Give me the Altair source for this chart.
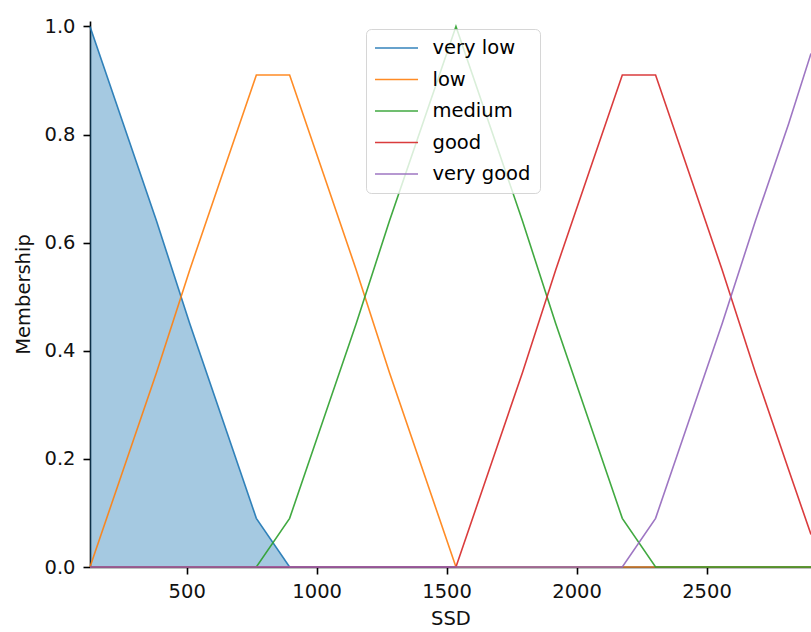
import altair as alt
import pandas as pd

# Universe samples (SSD) and membership values
ssd = [128, 256, 384, 512, 640, 768, 896, 1024, 1152, 1280, 1408, 1536,
       1664, 1792, 1920, 2048, 2176, 2304, 2432, 2560, 2688, 2816, 2902]
very_low = [1.0, 0.82, 0.64, 0.45, 0.27, 0.09, 0, 0, 0, 0, 0, 0,
            0, 0, 0, 0, 0, 0, 0, 0, 0, 0, 0]
low = [0, 0.18, 0.36, 0.55, 0.73, 0.91, 0.91, 0.73, 0.55, 0.36, 0.18, 0,
       0, 0, 0, 0, 0, 0, 0, 0, 0, 0, 0]
medium = [0, 0, 0, 0, 0, 0, 0.09, 0.27, 0.45, 0.64, 0.82, 1.0,
          0.82, 0.64, 0.45, 0.27, 0.09, 0, 0, 0, 0, 0, 0]
good = [0, 0, 0, 0, 0, 0, 0, 0, 0, 0, 0, 0,
        0.18, 0.36, 0.55, 0.73, 0.91, 0.91, 0.73, 0.55, 0.36, 0.18, 0.06]
very_good = [0, 0, 0, 0, 0, 0, 0, 0, 0, 0, 0, 0,
             0, 0, 0, 0, 0, 0.09, 0.27, 0.45, 0.64, 0.82, 0.95]

terms = ["very low", "low", "medium", "good", "very good"]
series = [very_low, low, medium, good, very_good]
colors = ["#1f77b4", "#ff7f0e", "#2ca02c", "#d62728", "#9467bd"]
x_ticks = [500, 1000, 1500, 2000, 2500]
y_ticks = [0.0, 0.2, 0.4, 0.6, 0.8, 1.0]

rows = []
for t, vals in zip(terms, series):
    for x, v in zip(ssd, vals):
        rows.append({"SSD": x, "Membership": v, "term": t})
df = pd.DataFrame(rows)

FONT = "DejaVu Sans"
FS = 19.5

x_enc = alt.X("SSD:Q", title="SSD",
              scale=alt.Scale(domain=[128, 2902], nice=False, zero=False),
              axis=alt.Axis(values=x_ticks, format="d", labelPadding=8,
                            titlePadding=9))
y_enc = alt.Y("Membership:Q", title="Membership",
              scale=alt.Scale(domain=[0, 1.01], nice=False),
              axis=alt.Axis(values=y_ticks, format=".1f", labelPadding=8,
                            titlePadding=10))

legend = alt.Legend(
    title=None, orient="none", legendX=276, legendY=8,
    symbolType="M-1.11,0H3.67", symbolSize=324, symbolStrokeWidth=1.5,
    labelOffset=37.5, labelFontSize=FS, labelFont=FONT, labelColor="#000",
    padding=9, rowPadding=11.5,
    fillColor="rgba(255,255,255,0.8)", strokeColor="rgba(204,204,204,0.8)",
    cornerRadius=5,
)
color_enc = alt.Color("term:N", scale=alt.Scale(domain=terms, range=colors),
                      legend=legend)

base = alt.Chart(df)

area = base.transform_filter(alt.datum.term == "very low").mark_area(
    color="#1f77b4", opacity=0.4
).encode(x=x_enc, y=y_enc)

layers = [area]
for t in terms:
    layers.append(
        base.transform_filter(alt.datum.term == t)
        .mark_line(strokeWidth=1.6, opacity=0.9)
        .encode(x=x_enc, y=y_enc, color=color_enc)
    )

chart = alt.layer(*layers).properties(
    width=721, height=546,
    autosize=alt.AutoSizeParams(type="none"),
    padding={"left": 90, "top": 21, "right": 0, "bottom": 65},
).configure(
    font=FONT,
).configure_view(
    strokeWidth=0,
).configure_axis(
    grid=False,
    domainColor="#000", domainWidth=1.6,
    tickColor="#000", tickWidth=1.6, tickSize=7,
    labelFont=FONT, labelFontSize=FS, labelColor="#111",
    titleFont=FONT, titleFontSize=FS, titleFontWeight="normal", titleColor="#111",
)

chart.save("out.html", embed_options={"renderer": "svg", "actions": False})
